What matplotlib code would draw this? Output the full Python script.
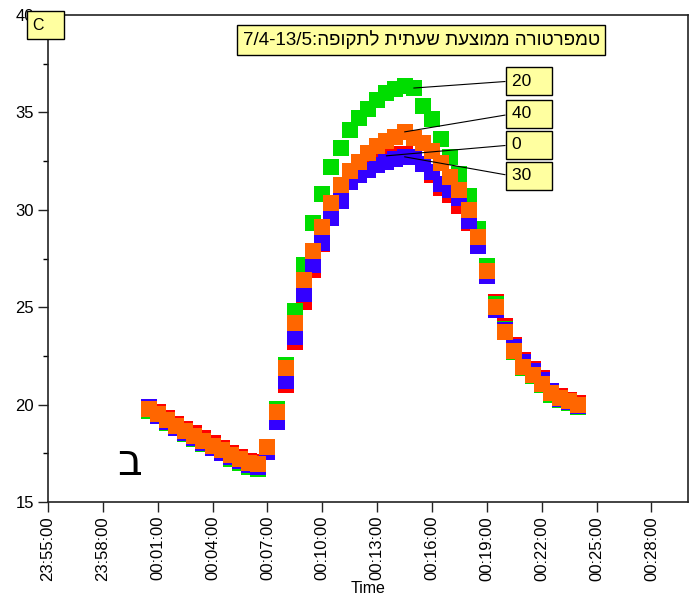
import matplotlib
matplotlib.use('Agg')
import matplotlib.pyplot as plt
import matplotlib.dates as mdates
import pandas as pd

plt.rcParams['font.family'] = ['Liberation Sans', 'DejaVu Sans']

# half-minute samples, 00:00:30 .. 00:24:00
times = pd.date_range('2000-01-02 00:00:30', periods=48, freq='30s')

temp_0 = [19.80, 19.62, 19.32, 19.02, 18.77, 18.52, 18.27, 18.02, 17.77, 17.52, 17.32, 17.12,
          17.05, 17.75, 19.20, 21.03, 23.20, 25.25, 26.90, 28.25, 29.80, 30.80, 31.50, 32.00,
          32.35, 32.60, 32.77, 32.85, 32.85, 32.70, 32.35, 31.80, 31.10, 30.75, 30.20, 29.30,
          28.15, 26.60, 25.25, 24.05, 23.07, 22.28, 21.85, 21.35, 20.65, 20.45, 20.25, 20.06]
temp_20 = [19.65, 19.40, 19.08, 18.78, 18.50, 18.25, 18.00, 17.75, 17.50, 17.22, 17.02, 16.80,
           16.70, 17.80, 19.75, 22.05, 24.80, 27.15, 29.30, 30.80, 32.20, 33.15, 34.10, 34.70,
           35.20, 35.65, 36.00, 36.20, 36.35, 36.25, 35.35, 34.65, 33.65, 32.70, 31.85, 30.70,
           29.00, 27.10, 25.15, 23.90, 22.70, 21.90, 21.45, 21.00, 20.50, 20.25, 20.10, 19.90]
temp_30 = [19.90, 19.42, 19.10, 18.80, 18.55, 18.28, 18.03, 17.78, 17.53, 17.30, 17.08, 16.88,
           16.80, 17.55, 19.10, 21.20, 23.45, 25.70, 27.15, 28.30, 29.60, 30.45, 31.45, 31.80,
           32.05, 32.30, 32.45, 32.60, 32.72, 32.70, 32.35, 31.95, 31.35, 31.00, 30.60, 29.45,
           28.15, 26.60, 24.85, 23.85, 22.95, 22.20, 21.75, 21.25, 20.70, 20.30, 20.12, 19.95]
temp_40 = [19.75, 19.50, 19.20, 18.90, 18.65, 18.40, 18.15, 17.90, 17.65, 17.40, 17.20, 17.00,
           16.95, 17.80, 19.60, 21.90, 24.20, 26.40, 27.90, 29.10, 30.35, 31.25, 32.00, 32.45,
           32.90, 33.25, 33.55, 33.75, 34.00, 33.70, 33.45, 33.00, 32.40, 31.70, 31.00, 30.00,
           28.60, 26.85, 25.00, 23.75, 22.75, 21.95, 21.50, 21.05, 20.60, 20.35, 20.20, 20.00]

series_labels = ['0', '20', '30', '40']
series_values = [temp_0, temp_20, temp_30, temp_40]
series_colors = ['#ff0000', '#00dd00', '#3300ff', '#ff6600']
# which sample each callout points at
callout_index = [26, 29, 28, 28]
callout_y = [33.33, 36.61, 31.74, 34.92]

tick_times = pd.date_range('2000-01-01 23:55', '2000-01-02 00:28', freq='3min')
title_he = 'טמפרטורה ממוצעת שעתית לתקופה:'
period = '7/4-13/5'

fig = plt.figure(figsize=(6.97, 5.98), dpi=100)
ax = fig.add_axes([48 / 697, 1 - 502 / 598, 640 / 697, 487 / 598])

for vals, color in zip(series_values, series_colors):
    ax.plot(times, vals, 's', color=color, markersize=11.3, markeredgewidth=0)

ax.set_xlim(pd.Timestamp('2000-01-01 23:55'), pd.Timestamp('2000-01-02 00:30'))
ax.set_ylim(15, 40)
ax.set_xticks(tick_times)
ax.xaxis.set_major_formatter(mdates.DateFormatter('%H:%M:%S'))
plt.setp(ax.get_xticklabels(), rotation=90)
ax.set_yticks(range(15, 41, 5))
ax.set_yticks([17.5, 22.5, 27.5, 32.5, 37.5], minor=True)
ax.tick_params(direction='out', length=7, width=1, labelsize=12, color='#222222', pad=3)
ax.tick_params(axis='y', which='minor', length=3.5, width=1)
ax.set_xlabel('Time', fontsize=11.5, labelpad=0)
for sp in ax.spines.values():
    sp.set_linewidth(1.2)
    sp.set_color('#222222')

box = dict(boxstyle='square,pad=0.36', fc='#ffffa0', ec='black', lw=1)
for lab, vals, idx, ty in zip(series_labels, series_values, callout_index, callout_y):
    txt = lab + ' ' * (3 + 2 * (2 - len(lab)))
    ax.annotate(txt, xy=(times[idx], vals[idx]),
                xytext=(pd.Timestamp('2000-01-02 00:20:22'), ty),
                ha='left', va='center', fontsize=12.5, bbox=box,
                arrowprops=dict(arrowstyle='-', color='black', lw=0.8,
                                shrinkA=0, shrinkB=0, relpos=(0, 0.5)))

# matplotlib lays text out left to right, so the Hebrew is given in display order
ax.text(0.583, 0.9487, period + title_he[::-1], transform=ax.transAxes,
        ha='center', va='center', fontsize=13.5,
        bbox=dict(boxstyle='square,pad=0.27', fc='#ffffa0', ec='black', lw=1))

fig.text(33 / 697, 1 - 25 / 598, 'C   ', ha='left', va='center', fontsize=11.5,
         bbox=dict(boxstyle='square,pad=0.4', fc='#ffffa0', ec='black', lw=1), zorder=10)

ax.text(0.128, 0.08, 'ב', transform=ax.transAxes, ha='center', va='center',
        fontsize=31, family='DejaVu Sans')

fig.savefig('out.png', dpi=100)
